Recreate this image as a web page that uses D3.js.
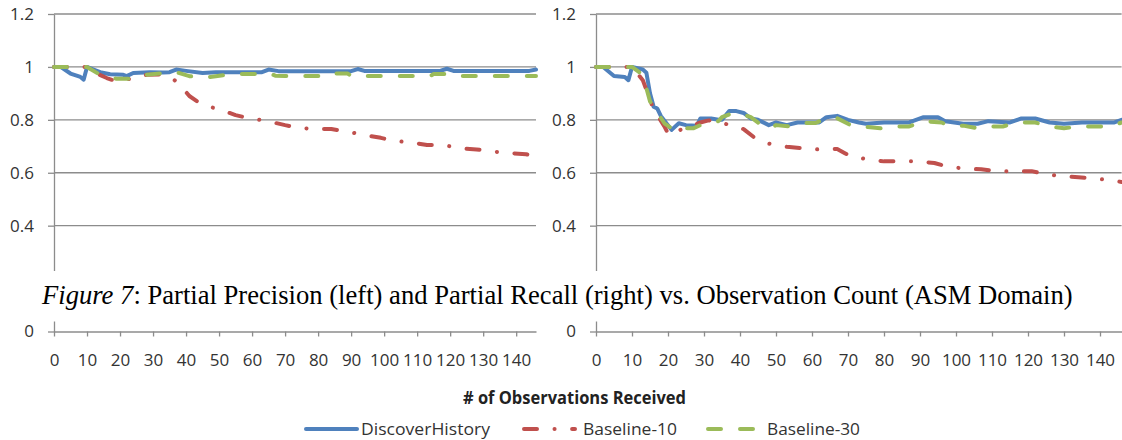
<!DOCTYPE html>
<html>
<head>
<meta charset="utf-8">
<script src="https://cdn.jsdelivr.net/npm/d3@7/dist/d3.min.js"></script>
<style>
	html, body { margin: 0; padding: 0; background: #fff; }
	svg { display: block; }
</style>
</head>
<body>
<div id="chart"></div>
<script>
/* global d3 */

// Observation count -> value.
const precisionDiscover = [
	[ 0, 1 ], [ 2, 1 ], [ 5, 0.975 ], [ 8, 0.962 ], [ 9, 0.952 ], [ 10, 1.0 ], [ 12, 0.99 ], [ 14, 0.98 ],
	[ 17, 0.972 ], [ 21, 0.97 ], [ 22, 0.965 ], [ 24, 0.977 ], [ 29, 0.98 ], [ 33, 0.979 ], [ 35, 0.98 ],
	[ 37, 0.99 ], [ 40, 0.985 ], [ 45, 0.977 ], [ 49, 0.98 ], [ 63, 0.98 ], [ 65, 0.99 ], [ 68, 0.984 ],
	[ 90, 0.984 ], [ 92, 0.992 ], [ 94, 0.985 ], [ 117, 0.985 ], [ 119, 0.993 ], [ 121, 0.985 ],
	[ 144, 0.985 ], [ 146, 0.99 ],
];
const precisionBase10 = [
	[ 0, 1 ], [ 10, 1 ], [ 13, 0.975 ], [ 16, 0.958 ], [ 19, 0.945 ], [ 21, 0.95 ], [ 24, 0.958 ],
	[ 28, 0.97 ], [ 33, 0.972 ], [ 35, 0.965 ], [ 38, 0.935 ], [ 41, 0.89 ], [ 45, 0.856 ], [ 50, 0.84 ],
	[ 55, 0.818 ], [ 59, 0.806 ], [ 64, 0.797 ], [ 70, 0.78 ], [ 74, 0.77 ], [ 79, 0.765 ], [ 84, 0.765 ],
	[ 89, 0.755 ], [ 94, 0.743 ], [ 99, 0.732 ], [ 103, 0.72 ], [ 108, 0.715 ], [ 113, 0.705 ],
	[ 118, 0.705 ], [ 123, 0.692 ], [ 128, 0.688 ], [ 133, 0.68 ], [ 138, 0.674 ], [ 143, 0.67 ], [ 146, 0.66 ],
];
const precisionBase30 = [
	[ 0, 1 ], [ 10, 1 ], [ 14, 0.97 ], [ 19, 0.955 ], [ 23, 0.955 ], [ 25, 0.962 ], [ 28, 0.97 ],
	[ 32, 0.975 ], [ 37, 0.98 ], [ 41, 0.965 ], [ 46, 0.96 ], [ 49, 0.965 ], [ 54, 0.973 ], [ 61, 0.973 ],
	[ 65, 0.977 ], [ 67, 0.967 ], [ 70, 0.966 ], [ 84, 0.966 ], [ 85, 0.975 ], [ 89, 0.975 ], [ 90, 0.966 ],
	[ 114, 0.966 ], [ 115, 0.973 ], [ 119, 0.973 ], [ 120, 0.966 ], [ 146, 0.966 ],
];

const recallDiscover = [
	[ 0, 1 ], [ 2, 1 ], [ 5, 0.966 ], [ 8, 0.962 ], [ 9, 0.95 ], [ 10, 1.0 ], [ 13, 0.99 ], [ 14, 0.978 ],
	[ 15, 0.9 ], [ 16, 0.85 ], [ 17, 0.843 ], [ 18, 0.815 ], [ 21, 0.762 ], [ 23, 0.787 ], [ 25, 0.78 ],
	[ 28, 0.778 ], [ 29, 0.805 ], [ 32, 0.805 ], [ 34, 0.8 ], [ 35, 0.8 ], [ 37, 0.833 ], [ 39, 0.833 ],
	[ 41, 0.826 ], [ 43, 0.805 ], [ 45, 0.8 ], [ 48, 0.78 ], [ 50, 0.79 ], [ 53, 0.78 ], [ 56, 0.79 ],
	[ 62, 0.79 ], [ 64, 0.81 ], [ 67, 0.815 ], [ 70, 0.8 ], [ 73, 0.79 ], [ 75, 0.785 ], [ 80, 0.79 ],
	[ 87, 0.79 ], [ 91, 0.81 ], [ 95, 0.81 ], [ 97, 0.795 ], [ 102, 0.785 ], [ 106, 0.785 ], [ 109, 0.795 ],
	[ 115, 0.79 ], [ 118, 0.805 ], [ 122, 0.805 ], [ 126, 0.79 ], [ 130, 0.785 ], [ 135, 0.79 ],
	[ 144, 0.79 ], [ 146, 0.8 ],
];
const recallBase10 = [
	[ 0, 1 ], [ 10, 1 ], [ 13, 0.95 ], [ 15, 0.875 ], [ 16, 0.84 ], [ 19, 0.775 ], [ 20, 0.748 ],
	[ 21, 0.742 ], [ 23, 0.76 ], [ 26, 0.775 ], [ 29, 0.79 ], [ 31, 0.797 ], [ 33, 0.8 ], [ 35, 0.79 ],
	[ 37, 0.78 ], [ 41, 0.765 ], [ 44, 0.733 ], [ 48, 0.71 ], [ 53, 0.698 ], [ 57, 0.693 ], [ 62, 0.688 ],
	[ 67, 0.69 ], [ 69, 0.675 ], [ 71, 0.66 ], [ 75, 0.652 ], [ 80, 0.643 ], [ 89, 0.643 ], [ 94, 0.637 ],
	[ 97, 0.625 ], [ 102, 0.616 ], [ 107, 0.613 ], [ 111, 0.606 ], [ 121, 0.606 ], [ 125, 0.594 ],
	[ 130, 0.586 ], [ 134, 0.583 ], [ 139, 0.577 ], [ 143, 0.572 ], [ 146, 0.565 ],
];
const recallBase30 = [
	[ 0, 1 ], [ 10, 1 ], [ 12, 0.98 ], [ 14, 0.92 ], [ 15, 0.87 ], [ 19, 0.787 ], [ 21, 0.768 ],
	[ 23, 0.78 ], [ 25, 0.768 ], [ 27, 0.768 ], [ 29, 0.78 ], [ 32, 0.788 ], [ 34, 0.795 ], [ 35, 0.81 ],
	[ 38, 0.826 ], [ 41, 0.82 ], [ 43, 0.81 ], [ 46, 0.78 ], [ 48, 0.768 ], [ 50, 0.78 ], [ 54, 0.775 ],
	[ 58, 0.788 ], [ 61, 0.788 ], [ 64, 0.806 ], [ 67, 0.806 ], [ 71, 0.778 ], [ 74, 0.775 ], [ 79, 0.768 ],
	[ 83, 0.775 ], [ 87, 0.775 ], [ 91, 0.795 ], [ 96, 0.79 ], [ 98, 0.778 ], [ 102, 0.778 ], [ 106, 0.768 ],
	[ 109, 0.775 ], [ 113, 0.775 ], [ 117, 0.79 ], [ 122, 0.79 ], [ 126, 0.775 ], [ 130, 0.768 ],
	[ 134, 0.775 ], [ 143, 0.775 ], [ 146, 0.79 ],
];

const seriesNames = [ 'DiscoverHistory', 'Baseline-10', 'Baseline-30' ];
const xTicks = [ 0, 10, 20, 30, 40, 50, 60, 70, 80, 90, 100, 110, 120, 130, 140 ];
const yTicks = [ 0, 0.2, 0.4, 0.6, 0.8, 1, 1.2 ];
const xMax = 146;
const captionItalic = 'Figure 7';
const captionRest = ': Partial Precision (left) and Partial Recall (right) vs. Observation Count (ASM Domain)';
const axisTitle = '# of Observations Received';

// Styling / layout
const width = 1122;
const height = 440;
const colors = [ '#4F81BD', '#C0504D', '#9BBB59' ];
const dashes = [ null, '13 17.5 0.1 17.5', '13 19' ];
const gridColor = '#8c8c8c';
const labelColor = '#333';
const sansFont = '"Open Sans", "Noto Sans", sans-serif';
const band = { top: 271, bottom: 321.5 };

const panels = [
	{ series: [ precisionDiscover, precisionBase10, precisionBase30 ], left: 54, right: 536 },
	{ series: [ recallDiscover, recallBase10, recallBase30 ], left: 596, right: 1121.6 },
];

const svg = d3.select( '#chart' )
	.append( 'svg' )
	.attr( 'width', width )
	.attr( 'height', height );

const y = d3.scaleLinear()
	.domain( [ 0, 1.2 ] )
	.range( [ 331.5, 14 ] );

// ticks whose row is covered by the caption band are not drawn
const visibleYTicks = yTicks.filter( ( t ) => y( t ) < band.top || y( t ) > band.bottom );

panels.forEach( ( panel ) => {
	const x = d3.scaleLinear()
		.domain( [ 0, xMax ] )
		.range( [ panel.left, panel.right ] );

	const g = svg.append( 'g' );

	// horizontal gridlines
	g.append( 'g' )
		.selectAll( 'line' )
		.data( visibleYTicks.filter( ( t ) => t > 0 ) )
		.enter()
		.append( 'line' )
		.attr( 'x1', panel.left )
		.attr( 'x2', panel.right )
		.attr( 'y1', ( d ) => y( d ) )
		.attr( 'y2', ( d ) => y( d ) )
		.attr( 'stroke', gridColor )
		.attr( 'stroke-width', 1.3 );

	const yAxis = g.append( 'g' )
		.attr( 'transform', `translate(${ panel.left },0)` )
		.call(
			d3.axisLeft( y )
				.tickValues( visibleYTicks )
				.tickFormat( ( d ) => String( d ) )
				.tickSize( 6 )
				.tickSizeOuter( 0 )
				.tickPadding( 14 )
		);

	const xAxis = g.append( 'g' )
		.attr( 'transform', `translate(0,${ y( 0 ) })` )
		.call(
			d3.axisBottom( x )
				.tickValues( xTicks )
				.tickSize( 5 )
				.tickSizeOuter( 0 )
				.tickPadding( 17 )
		);

	[ yAxis, xAxis ].forEach( ( ax ) => {
		ax.selectAll( 'path, line' )
			.attr( 'stroke', gridColor )
			.attr( 'stroke-width', 1.3 );
		ax.selectAll( 'text' )
			.attr( 'fill', labelColor )
			.style( 'font-family', sansFont )
			.style( 'font-size', '17px' );
	} );

	const line = d3.line()
		.x( ( d ) => x( d[ 0 ] ) )
		.y( ( d ) => y( d[ 1 ] ) );

	panel.series.forEach( ( data, i ) => {
		g.append( 'path' )
			.datum( data )
			.attr( 'd', line )
			.attr( 'fill', 'none' )
			.attr( 'stroke', colors[ i ] )
			.attr( 'stroke-width', 4 )
			.attr( 'stroke-linecap', 'round' )
			.attr( 'stroke-linejoin', 'round' )
			.attr( 'stroke-dasharray', dashes[ i ] );
	} );
} );

// the figure caption sits on a white band over the lower part of both plots
svg.append( 'rect' )
	.attr( 'x', 0 )
	.attr( 'y', band.top )
	.attr( 'width', width )
	.attr( 'height', band.bottom - band.top )
	.attr( 'fill', '#fff' );

const caption = svg.append( 'text' )
	.attr( 'x', 42 )
	.attr( 'y', 304 )
	.attr( 'fill', '#000' )
	.style( 'font-family', '"Liberation Serif", "Times New Roman", serif' )
	.style( 'font-size', '26px' );

caption.append( 'tspan' ).style( 'font-style', 'italic' ).text( captionItalic );
caption.append( 'tspan' ).text( captionRest );

// fit the caption to the width it takes in the figure
const captionWidth = caption.node().getComputedTextLength();
caption.style( 'font-size', ( 26 * 1031 / captionWidth ).toFixed( 2 ) + 'px' );

svg.append( 'text' )
	.attr( 'x', 463 )
	.attr( 'y', 404 )
	.attr( 'textLength', 223 )
	.attr( 'lengthAdjust', 'spacingAndGlyphs' )
	.attr( 'fill', '#222' )
	.style( 'font-family', sansFont )
	.style( 'font-weight', '700' )
	.style( 'font-size', '17px' )
	.text( axisTitle );

// legend
const legendY = 429;
const legendLayout = [
	{ x: 304, textX: 361, textWidth: 129 },
	{ x: 522, textX: 583, textWidth: 94 },
	{ x: 706, textX: 767, textWidth: 93 },
];

seriesNames.forEach( ( name, i ) => {
	const item = legendLayout[ i ];

	svg.append( 'line' )
		.attr( 'x1', item.x + 2 )
		.attr( 'x2', item.x + 53 )
		.attr( 'y1', legendY )
		.attr( 'y2', legendY )
		.attr( 'stroke', colors[ i ] )
		.attr( 'stroke-width', 4 )
		.attr( 'stroke-linecap', 'round' )
		.attr( 'stroke-dasharray', dashes[ i ] );

	svg.append( 'text' )
		.attr( 'x', item.textX )
		.attr( 'y', legendY )
		.attr( 'dy', '0.36em' )
		.attr( 'textLength', item.textWidth )
		.attr( 'lengthAdjust', 'spacingAndGlyphs' )
		.attr( 'fill', labelColor )
		.style( 'font-family', sansFont )
		.style( 'font-size', '17px' )
		.text( name );
} );
</script>
</body>
</html>
